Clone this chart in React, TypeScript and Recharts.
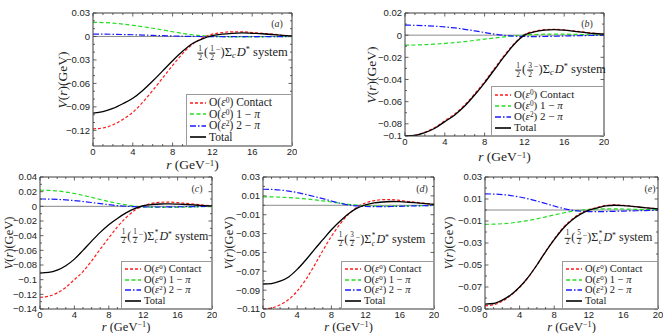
import React from 'react'
import { LineChart, Line, XAxis, YAxis, ReferenceLine } from 'recharts'

// r in GeV^-1
const rValues = [0, 1, 2, 3, 4, 5, 6, 7, 8, 9, 10, 11, 12, 13, 14, 15, 16, 17, 18, 19, 20]
const xMajor = [0, 4, 8, 12, 16, 20]

// (a) 1/2(1/2-) Sigma_c D*
const aContact = [-0.118, -0.117, -0.113, -0.106, -0.097, -0.084, -0.069, -0.053, -0.037, -0.022, -0.010, -0.002, 0.003, 0.005, 0.006, 0.006, 0.005, 0.004, 0.003, 0.0015, 0.0005]
const aOnePi = [0.018, 0.0178, 0.017, 0.0158, 0.0143, 0.0125, 0.0105, 0.0083, 0.006, 0.004, 0.0022, 0.001, 0.0002, -0.0003, -0.0005, -0.0006, -0.0005, -0.0004, -0.0003, -0.0002, -0.0001]
const aTwoPi = [0.003, 0.003, 0.0028, 0.0025, 0.0022, 0.0018, 0.0014, 0.001, 0.0006, 0.0003, 0.0001, -0.0001, -0.0002, -0.0003, -0.0003, -0.0003, -0.0002, -0.0002, -0.0001, -0.0001, 0]
const aTotal = [-0.098, -0.096, -0.092, -0.086, -0.079, -0.069, -0.057, -0.044, -0.031, -0.019, -0.009, -0.003, 0.001, 0.003, 0.004, 0.0045, 0.004, 0.0035, 0.0025, 0.0015, 0.0005]
const aYMajor = [0.03, 0, -0.03, -0.06, -0.09, -0.12]
const aYLabels = ['0.03', '0', '−0.03', '−0.06', '−0.09', '−0.12']
const aYMinor = [0.02, 0.01, -0.01, -0.02, -0.04, -0.05, -0.07, -0.08, -0.1, -0.11, -0.13]

// (b) 1/2(3/2-) Sigma_c D*
const bContact = [-0.091, -0.0903, -0.0875, -0.0833, -0.0772, -0.0712, -0.063, -0.053, -0.042, -0.030, -0.018, -0.0075, 0.0005, 0.0035, 0.005, 0.0052, 0.0047, 0.0038, 0.0027, 0.0017, 0.001]
const bOnePi = [-0.009, -0.0089, -0.0086, -0.0081, -0.0075, -0.0067, -0.0058, -0.0047, -0.0036, -0.0025, -0.0015, -0.0006, 0.0001, 0.0006, 0.0009, 0.001, 0.0009, 0.0007, 0.0005, 0.0003, 0.0002]
const bTwoPi = [0.009, 0.0089, 0.0086, 0.0081, 0.0074, 0.0065, 0.0053, 0.0039, 0.0024, 0.0009, -0.0002, -0.0009, -0.0012, -0.0013, -0.0012, -0.001, -0.0008, -0.0006, -0.0004, -0.0002, -0.0001]
const bTotal = [-0.091, -0.0905, -0.088, -0.084, -0.078, -0.072, -0.064, -0.054, -0.043, -0.031, -0.019, -0.008, 0, 0.003, 0.0045, 0.005, 0.0045, 0.0035, 0.0025, 0.0015, 0.001]
const bYMajor = [0.02, 0, -0.02, -0.04, -0.06, -0.08, -0.091]
const bYLabels = ['0.02', '0', '−0.02', '−0.04', '−0.06', '−0.08', '−0.1']
const bYMinor = [0.01, -0.01, -0.03, -0.05, -0.07]

// (c) 1/2(1/2-) Sigma_c* D*
const cContact = [-0.124, -0.1226, -0.118, -0.1105, -0.100, -0.089, -0.0745, -0.0585, -0.043, -0.028, -0.0155, -0.0055, 0.0005, 0.004, 0.0055, 0.0058, 0.005, 0.004, 0.003, 0.0018, 0.0008]
const cOnePi = [0.022, 0.0218, 0.021, 0.0195, 0.0175, 0.015, 0.0122, 0.0093, 0.0065, 0.004, 0.002, 0.0003, -0.0008, -0.0014, -0.0016, -0.0016, -0.0014, -0.0011, -0.0008, -0.0005, -0.0003]
const cTwoPi = [0.010, 0.0099, 0.0095, 0.0088, 0.0078, 0.0066, 0.0052, 0.0037, 0.0022, 0.001, 0.0001, -0.0005, -0.0008, -0.0009, -0.0009, -0.0008, -0.0007, -0.0005, -0.0004, -0.0002, -0.0001]
const cTotal = [-0.091, -0.0902, -0.087, -0.081, -0.072, -0.060, -0.0475, -0.0355, -0.025, -0.0165, -0.009, -0.003, 0.0008, 0.0025, 0.0032, 0.0033, 0.003, 0.0025, 0.0018, 0.0011, 0.0005]
const cYMajor = [0.04, 0.02, 0, -0.02, -0.04, -0.06, -0.08, -0.1, -0.12, -0.14]
const cYLabels = ['0.04', '0.02', '0', '−0.02', '−0.04', '−0.06', '−0.08', '−0.1', '−0.12', '−0.14']
const cYMinor = [0.03, 0.01, -0.01, -0.03, -0.05, -0.07, -0.09, -0.11, -0.13]

// (d) 1/2(3/2-) Sigma_c* D*
const dContact = [-0.110, -0.109, -0.1055, -0.100, -0.091, -0.079, -0.064, -0.048, -0.033, -0.020, -0.0095, -0.002, 0.0025, 0.005, 0.006, 0.006, 0.0052, 0.004, 0.003, 0.002, 0.001]
const dOnePi = [0.009, 0.0089, 0.0086, 0.0081, 0.0075, 0.0067, 0.0058, 0.0047, 0.0035, 0.0022, 0.001, 0.0001, -0.0005, -0.0008, -0.0009, -0.0009, -0.0008, -0.0006, -0.0004, -0.0003, -0.0002]
const dTwoPi = [0.017, 0.0168, 0.0162, 0.015, 0.0135, 0.0115, 0.0093, 0.007, 0.0045, 0.0022, 0.0004, -0.0007, -0.0013, -0.0015, -0.0015, -0.0013, -0.0011, -0.0008, -0.0006, -0.0004, -0.0002]
const dTotal = [-0.0835, -0.083, -0.0805, -0.076, -0.068, -0.058, -0.047, -0.0365, -0.026, -0.017, -0.009, -0.003, 0.0005, 0.0025, 0.0035, 0.004, 0.0038, 0.0032, 0.0025, 0.0018, 0.001]
const dYMajor = [0.03, 0.01, -0.01, -0.03, -0.05, -0.07, -0.09, -0.11]
const dYLabels = ['0.03', '0.01', '−0.01', '−0.03', '−0.05', '−0.07', '−0.09', '−0.11']
const dYMinor = [0.02, 0, -0.02, -0.04, -0.06, -0.08, -0.1]

// (e) 1/2(5/2-) Sigma_c* D*
const eContact = [-0.087, -0.0862, -0.083, -0.0775, -0.0703, -0.0612, -0.050, -0.0378, -0.0265, -0.0163, -0.0088, -0.0033, 0.0002, 0.0025, 0.0042, 0.0046, 0.0042, 0.0034, 0.0026, 0.0018, 0.001]
const eOnePi = [-0.013, -0.0129, -0.0125, -0.0118, -0.0108, -0.0095, -0.008, -0.0063, -0.0045, -0.0028, -0.0013, -0.0002, 0.0005, 0.0009, 0.001, 0.001, 0.0009, 0.0007, 0.0005, 0.0003, 0.0002]
const eTwoPi = [0.0146, 0.0145, 0.014, 0.0131, 0.0118, 0.0101, 0.0081, 0.0059, 0.0036, 0.0015, -0.0001, -0.001, -0.0014, -0.0015, -0.0014, -0.0012, -0.001, -0.0008, -0.0006, -0.0004, -0.0002]
const eTotal = [-0.0855, -0.085, -0.082, -0.077, -0.070, -0.061, -0.050, -0.038, -0.027, -0.017, -0.0095, -0.004, -0.0002, 0.002, 0.0038, 0.0043, 0.004, 0.0033, 0.0025, 0.0017, 0.001]
const eYMajor = [0.03, 0.01, -0.01, -0.03, -0.05, -0.07, -0.09]
const eYLabels = ['0.03', '0.01', '−0.01', '−0.03', '−0.05', '−0.07', '−0.09']
const eYMinor = [0.02, 0, -0.02, -0.04, -0.06, -0.08]

const FRAME = '#3c3c3c'
const SERIF = '"Liberation Serif", "DejaVu Serif", serif'
const SANS = '"Liberation Sans", Arial, sans-serif'

const series = [
  { key: 'contact', color: '#ff1a1a', dash: '3 2', width: 1.2 },
  { key: 'onePi', color: '#22dd22', dash: '4 2.5', width: 1.2 },
  { key: 'twoPi', color: '#1a1aff', dash: '6 2 1.5 2', width: 1.2 },
  { key: 'total', color: '#000000', dash: undefined, width: 1.3 },
]

const makeRows = (contact, onePi, twoPi, total) =>
  rValues.map((r, i) => ({ r, contact: contact[i], onePi: onePi[i], twoPi: twoPi[i], total: total[i] }))

const Frac = ({ n, d }) => (
  <span style={{ display: 'inline-flex', flexDirection: 'column', alignItems: 'center', verticalAlign: 'middle', fontSize: '0.6em', lineHeight: 1.05, margin: '0 1px' }}>
    <span>{n}</span>
    <span style={{ borderTop: '0.7px solid currentColor', padding: '0 1px' }}>{d}</span>
  </span>
)

const SubSup = ({ sub, sup }) => (
  <span style={{ display: 'inline-flex', flexDirection: 'column', verticalAlign: 'middle', fontSize: '0.6em', lineHeight: 1.2, marginLeft: 0.5 }}>
    <span style={{ height: '1.05em', overflow: 'hidden' }}>{sup}</span>
    <span style={{ fontStyle: 'italic' }}>{sub}</span>
  </span>
)

const sup = (t) => <span style={{ fontSize: '0.66em', verticalAlign: '0.4em', lineHeight: 0 }}>{t}</span>
const sub = (t) => <span style={{ fontSize: '0.68em', verticalAlign: '-0.25em', lineHeight: 0, fontStyle: 'italic' }}>{t}</span>

const systemLabel = (j, star) => (
  <span>
    <Frac n="1" d="2" />(<Frac n={j} d="2" />{sup('−')})Σ{star ? <SubSup sub="c" sup="*" /> : sub('c')}
    <i style={{ marginLeft: 1 }}>D</i>{sup('*')} system
  </span>
)

const legendText = [
  <>O(<i>ε</i>{sup('0')}) Contact</>,
  <>O(<i>ε</i>{sup('0')}) 1 − <i>π</i></>,
  <>O(<i>ε</i>{sup('2')}) 2 − <i>π</i></>,
  <>Total</>,
]

const panels = [
  {
    tag: 'a', rows: makeRows(aContact, aOnePi, aTwoPi, aTotal), yDomain: [-0.14, 0.03], yMajor: aYMajor, yLabels: aYLabels, yMinor: aYMinor,
    plot: { x: 93, y: 13, w: 199, h: 133 }, yLabelX: 63, xLabelY: 165, tagPos: [277, 23], sys: systemLabel('1', false), sysPos: [242, 53],
    legend: { x: 186, y: 94, w: 106, h: 52 }, fs: 11.5, sysFs: 12.5, axFs: 13.5,
  },
  {
    tag: 'b', rows: makeRows(bContact, bOnePi, bTwoPi, bTotal), yDomain: [-0.091, 0.02], yMajor: bYMajor, yLabels: bYLabels, yMinor: bYMinor,
    plot: { x: 405, y: 13, w: 199, h: 123 }, yLabelX: 372, xLabelY: 157, tagPos: [587, 23], sys: systemLabel('3', false), sysPos: [560, 70],
    legend: { x: 491, y: 86, w: 113, h: 50 }, fs: 11, sysFs: 12.5, axFs: 13.5,
  },
  {
    tag: 'c', rows: makeRows(cContact, cOnePi, cTwoPi, cTotal), yDomain: [-0.14, 0.04], yMajor: cYMajor, yLabels: cYLabels, yMinor: cYMinor,
    plot: { x: 40, y: 177, w: 172, h: 132 }, yLabelX: 9, xLabelY: 327, tagPos: [197, 188], sys: systemLabel('1', true), sysPos: [164, 237],
    legend: { x: 121, y: 261, w: 91, h: 48 }, fs: 10.5, sysFs: 12, axFs: 12.5,
  },
  {
    tag: 'd', rows: makeRows(dContact, dOnePi, dTwoPi, dTotal), yDomain: [-0.11, 0.03], yMajor: dYMajor, yLabels: dYLabels, yMinor: dYMinor,
    plot: { x: 263, y: 177, w: 171, h: 132 }, yLabelX: 229, xLabelY: 327, tagPos: [422, 188], sys: systemLabel('3', true), sysPos: [381, 240],
    legend: { x: 341, y: 261, w: 93, h: 48 }, fs: 10.5, sysFs: 12, axFs: 12.5,
  },
  {
    tag: 'e', rows: makeRows(eContact, eOnePi, eTwoPi, eTotal), yDomain: [-0.09, 0.03], yMajor: eYMajor, yLabels: eYLabels, yMinor: eYMinor,
    plot: { x: 485, y: 177, w: 173, h: 132 }, yLabelX: 449, xLabelY: 327, tagPos: [650, 188], sys: systemLabel('5', true), sysPos: [608, 238],
    legend: { x: 562, y: 261, w: 96, h: 48 }, fs: 10.5, sysFs: 12, axFs: 12.5,
  },
]

const L = 50
const T = 5
const R = 5
const B = 30

function Panel({ p }) {
  const { plot } = p
  const width = L + plot.w + R
  const height = T + plot.h + B
  const pTop = T
  const pBottom = T + plot.h
  const pLeft = L
  const pRight = L + plot.w
  const yTicks = [...p.yMajor, ...p.yMinor]

  const xTick = (props) => {
    const { x, y, payload } = props
    const major = xMajor.includes(payload.value)
    const len = major ? 3.5 : 2
    return (
      <g>
        <line x1={x} x2={x} y1={pBottom} y2={pBottom - len} stroke={FRAME} strokeWidth={0.8} />
        <line x1={x} x2={x} y1={pTop} y2={pTop + len} stroke={FRAME} strokeWidth={0.8} />
        {major && (
          <text x={x} y={y} dy="0.71em" textAnchor="middle" fontSize={9.5} fontFamily={SANS} fill="#222">
            {payload.value}
          </text>
        )}
      </g>
    )
  }

  const yTick = (props) => {
    const { x, y, payload } = props
    const idx = p.yMajor.findIndex((v) => Math.abs(v - payload.value) < 1e-9)
    const major = idx >= 0
    const len = major ? 3.5 : 2
    return (
      <g>
        <line x1={pLeft} x2={pLeft + len} y1={y} y2={y} stroke={FRAME} strokeWidth={0.8} />
        <line x1={pRight} x2={pRight - len} y1={y} y2={y} stroke={FRAME} strokeWidth={0.8} />
        {major && (
          <text x={x} y={y} dy="0.355em" textAnchor="end" fontSize={9.5} fontFamily={SANS} fill="#222">
            {p.yLabels[idx]}
          </text>
        )}
      </g>
    )
  }

  // border 2 + padding 4
  const rowH = (p.legend.h - 6) / 4
  return (
    <>
      <div style={{ position: 'absolute', left: plot.x - L, top: plot.y - T }}>
        <LineChart width={width} height={height} data={p.rows} margin={{ top: T, right: R, bottom: 0, left: 0 }}>
          <XAxis dataKey="r" type="number" domain={[0, 20]} ticks={rValues} interval={0} height={B} tickSize={0} tickMargin={2}
            tickLine={false} axisLine={{ stroke: FRAME }} tick={xTick} />
          <YAxis type="number" domain={p.yDomain} ticks={yTicks} interval={0} width={L} tickSize={0} tickMargin={3}
            tickLine={false} axisLine={{ stroke: FRAME }} tick={yTick} allowDataOverflow />
          <ReferenceLine y={0} stroke="#8a8a8a" strokeWidth={1} />
          <ReferenceLine y={p.yDomain[1]} stroke={FRAME} />
          <ReferenceLine x={20} stroke={FRAME} />
          {series.map((s) => (
            <Line key={s.key} dataKey={s.key} type="monotone" stroke={s.color} strokeWidth={s.width} strokeDasharray={s.dash}
              dot={false} activeDot={false} isAnimationActive={false} />
          ))}
        </LineChart>
      </div>

      <div style={{ position: 'absolute', left: p.yLabelX, top: plot.y + plot.h / 2, transform: 'translate(-50%, -50%) rotate(-90deg)',
        whiteSpace: 'nowrap', fontFamily: SERIF, fontSize: p.axFs, color: '#222' }}>
        <i>V</i>(<i>r</i>)(GeV)
      </div>
      <div style={{ position: 'absolute', left: plot.x + plot.w / 2, top: p.xLabelY, transform: 'translate(-50%, -50%)',
        whiteSpace: 'nowrap', fontFamily: SERIF, fontSize: p.axFs, lineHeight: 1, color: '#222' }}>
        <i>r</i> (GeV{sup('−1')})
      </div>
      <div style={{ position: 'absolute', left: p.tagPos[0], top: p.tagPos[1], transform: 'translate(-50%, -50%)',
        fontFamily: SERIF, fontSize: 10, color: '#333' }}>
        (<i>{p.tag}</i>)
      </div>
      <div style={{ position: 'absolute', left: p.sysPos[0], top: p.sysPos[1], transform: 'translate(-50%, -50%)',
        whiteSpace: 'nowrap', fontFamily: SERIF, fontSize: p.sysFs, color: '#222' }}>
        {p.sys}
      </div>
      <div style={{ position: 'absolute', left: p.legend.x, top: p.legend.y, width: p.legend.w, height: p.legend.h,
        boxSizing: 'border-box', border: '1px solid #9a9a9a', background: '#fff', padding: '2px 0 2px 3px',
        fontFamily: SERIF, fontSize: p.fs, lineHeight: 1, color: '#222' }}>
        {series.map((s, i) => (
          <div key={s.key} style={{ display: 'flex', alignItems: 'center', height: rowH, whiteSpace: 'nowrap' }}>
            <svg width={16} height={6} style={{ flex: 'none' }}>
              <line x1={0} x2={16} y1={3} y2={3} stroke={s.color} strokeWidth={s.key === 'total' ? 1.6 : 1.4} strokeDasharray={s.dash} />
            </svg>
            <span style={{ marginLeft: 3 }}>{legendText[i]}</span>
          </div>
        ))}
      </div>
    </>
  )
}

export default function App() {
  return (
    <div style={{ position: 'absolute', left: 0, top: 0, width: 664, height: 333, background: '#fff', overflow: 'hidden' }}>
      {panels.map((p) => (
        <Panel key={p.tag} p={p} />
      ))}
    </div>
  )
}
